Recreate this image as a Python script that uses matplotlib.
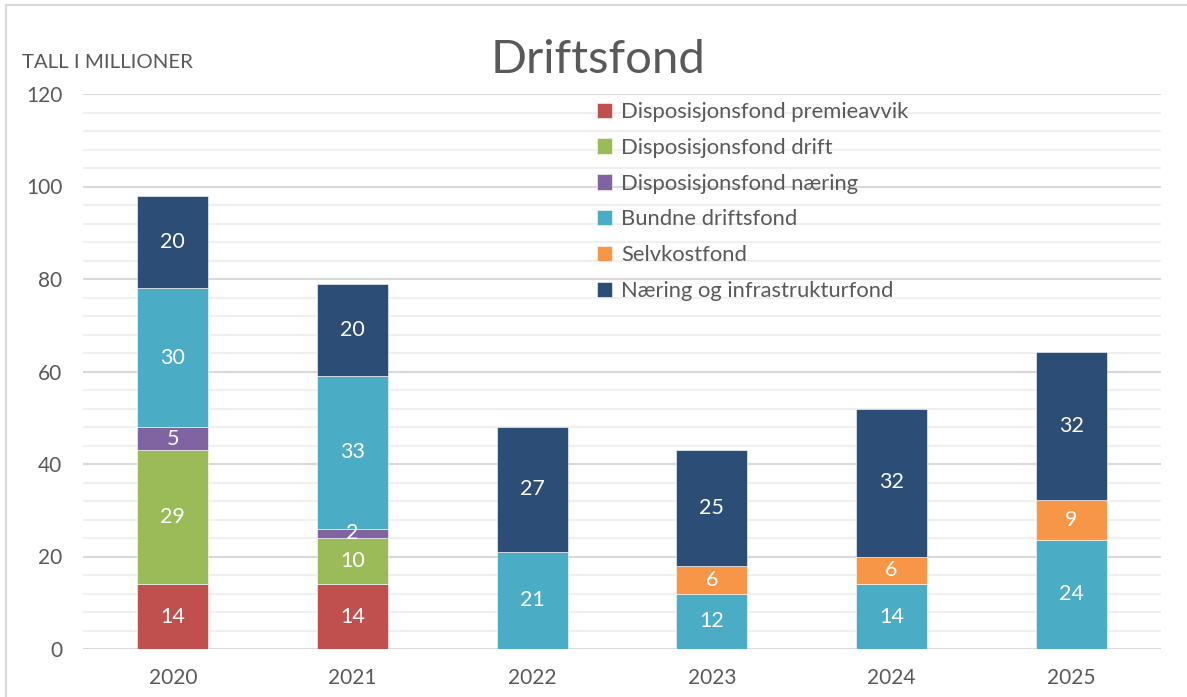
import matplotlib
matplotlib.use("Agg")
import matplotlib.pyplot as plt
from matplotlib.lines import Line2D
import numpy as np

years = ["2020", "2021", "2022", "2023", "2024", "2025"]
series_names = [
    "Disposisjonsfond premieavvik",
    "Disposisjonsfond drift",
    "Disposisjonsfond næring",
    "Bundne driftsfond",
    "Selvkostfond",
    "Næring og infrastrukturfond",
]
premieavvik = [14, 14, 0, 0, 0, 0]
drift = [29, 10, 0, 0, 0, 0]
naering = [5, 2, 0, 0, 0, 0]
bundne = [30, 33, 21, 12, 14, 23.6]
selvkost = [0, 0, 0, 6, 6, 8.6]
infrastruktur = [20, 20, 27, 25, 32, 32]

colors = ["#C0504D", "#9BBB59", "#8064A2", "#4BACC6", "#F79646", "#2C4D75"]

FONT = "Lato"
TXT = "#595959"

fig = plt.figure(figsize=(11.87, 6.97), dpi=100)
ax = fig.add_axes([83 / 1187, 1 - 649 / 697, (1161 - 83) / 1187, (649 - 94) / 697])

x = np.arange(len(years))
bottom = np.zeros(len(years))
data = [premieavvik, drift, naering, bundne, selvkost, infrastruktur]
for name, vals, col in zip(series_names, data, colors):
    vals = np.array(vals, dtype=float)
    bars = ax.bar(x, vals, 0.395, bottom=bottom, color=col, label=name,
                  edgecolor="#FFFFFF", linewidth=0.4, zorder=3)
    labels = [f"{v:.0f}" if v > 0 else "" for v in vals]
    ax.bar_label(bars, labels=labels, label_type="center", color="white",
                 fontsize=15.5, family=FONT, zorder=4)
    bottom += vals

ax.set_xlim(-0.5, len(years) - 0.5)
ax.set_ylim(0, 120)
ax.set_yticks(np.arange(0, 121, 20))
ax.set_yticks(np.arange(0, 121, 4), minor=True)
ax.set_xticks(x)
ax.set_xticklabels(years)
ax.grid(axis="y", which="major", color="#D9D9D9", linewidth=1.5, zorder=0)
ax.grid(axis="y", which="minor", color="#F0F0F0", linewidth=1.5, zorder=0)
for s in ax.spines.values():
    s.set_visible(False)
ax.tick_params(axis="both", which="both", length=0)
ax.tick_params(axis="y", pad=15)
ax.tick_params(axis="x", pad=14)
for lbl in ax.get_xticklabels() + ax.get_yticklabels():
    lbl.set_fontfamily(FONT)
    lbl.set_fontsize(15)
    lbl.set_color(TXT)

fig.text(598 / 1187, 1 - 60 / 697, "Driftsfond", ha="center", va="center",
         fontsize=34, family=FONT, color=TXT)
fig.text(22 / 1187, 1 - 63 / 697, "TALL I MILLIONER", ha="left", va="center",
         fontsize=14.7, family=FONT, color=TXT)

leg = ax.legend(loc="upper left", bbox_to_anchor=(597 / 1187, 1 - 102 / 697),
                bbox_transform=fig.transFigure, frameon=False,
                prop={"family": FONT, "size": 15.8}, labelcolor=TXT,
                handlelength=0.7, handleheight=0.7, handletextpad=0.4,
                labelspacing=0.72, borderpad=0, borderaxespad=0)

# chart-area border (top and left)
fig.add_artist(Line2D([6 / 1187, 1], [1 - 5 / 697, 1 - 5 / 697],
                      transform=fig.transFigure, color="#D9D9D9", linewidth=1.5))
fig.add_artist(Line2D([6 / 1187, 6 / 1187], [0, 1 - 5 / 697],
                      transform=fig.transFigure, color="#D9D9D9", linewidth=1.5))

fig.savefig("out.png", dpi=100)
